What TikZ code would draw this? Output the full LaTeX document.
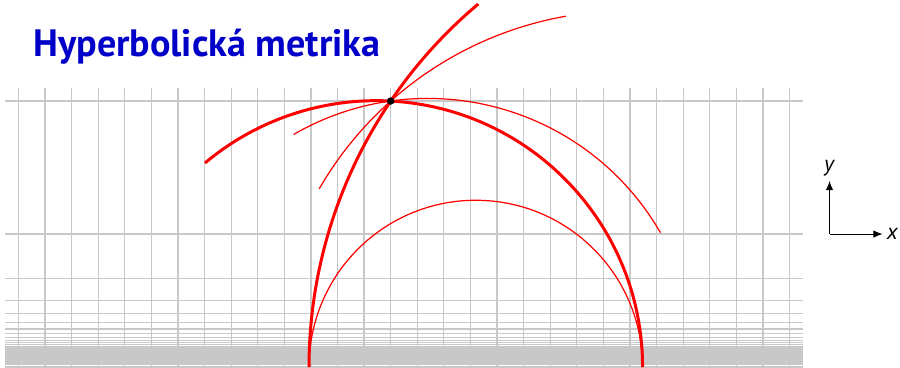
\documentclass[tikz,border=0pt]{standalone}
\usepackage{fontspec}
\setmainfont{PT Sans}
\usetikzlibrary{arrows.meta}
\definecolor{titleblue}{HTML}{0000C8}
\definecolor{gridgray}{HTML}{C8C8C8}
\definecolor{geored}{HTML}{FF0000}
\tikzset{
 gridline/.style={gridgray,line width=0.65pt},
 thickgeo/.style={geored,line width=1.6pt},
 thingeo/.style={geored,line width=0.65pt},
 axisarrow/.style={black,line width=0.55pt,-{Latex[length=5pt,width=4pt]}}}

\begin{document}
\begin{tikzpicture}[x=0.5cm,y=0.5cm,font=\large]
\useasboundingbox (-14.69,0) rectangle (19.15,13.80);
\begin{scope}
 \clip (-14.69,0) rectangle (19.15,13.80);
 \foreach \x in {-14,...,15}
  \draw[gridline] (\x,0) -- (\x,10.5);
 \foreach \n in {1,...,100}
  \draw[gridline] (-14.5,{10/\n}) -- (15.5,{10/\n});
 \draw[gridline] (-14.5,0) -- (15.5,0);
\end{scope}
\node[anchor=base west,inner sep=0pt,titleblue,font=\fontsize{20.4}{24}\selectfont\bfseries] (title) at (-13.45,11.68) {Hyperbolická metrika};
\coordinate (P) at (0,10);
\draw[thingeo] (3.2,0) ++(0:6.27) arc[start angle=0,end angle=180,radius=6.27];
\foreach \c/\a/\b/\s in {14.75/130/180/thickgeo,-0.545/0/130/thickgeo,8.91/100/150/thingeo,1.40/30/120/thingeo}{
 \pgfmathsetmacro\r{sqrt(\c*\c+100)}
 \draw[\s] (\c,0) ++(\a:\r) arc[start angle=\a,end angle=\b,radius=\r];
}
\fill[black] (P) circle[radius=0.14];
\coordinate (o) at (16.5,5);
\coordinate (xend) at (18.5,5);
\coordinate (yend) at (16.5,7);
\draw[axisarrow] (o) -- (xend) node[right,inner sep=2pt] (xlab) {\textit{x}};
\draw[axisarrow] (o) -- (yend) node[above,inner sep=2pt] (ylab) {\textit{y}};
\end{tikzpicture}
\end{document}
